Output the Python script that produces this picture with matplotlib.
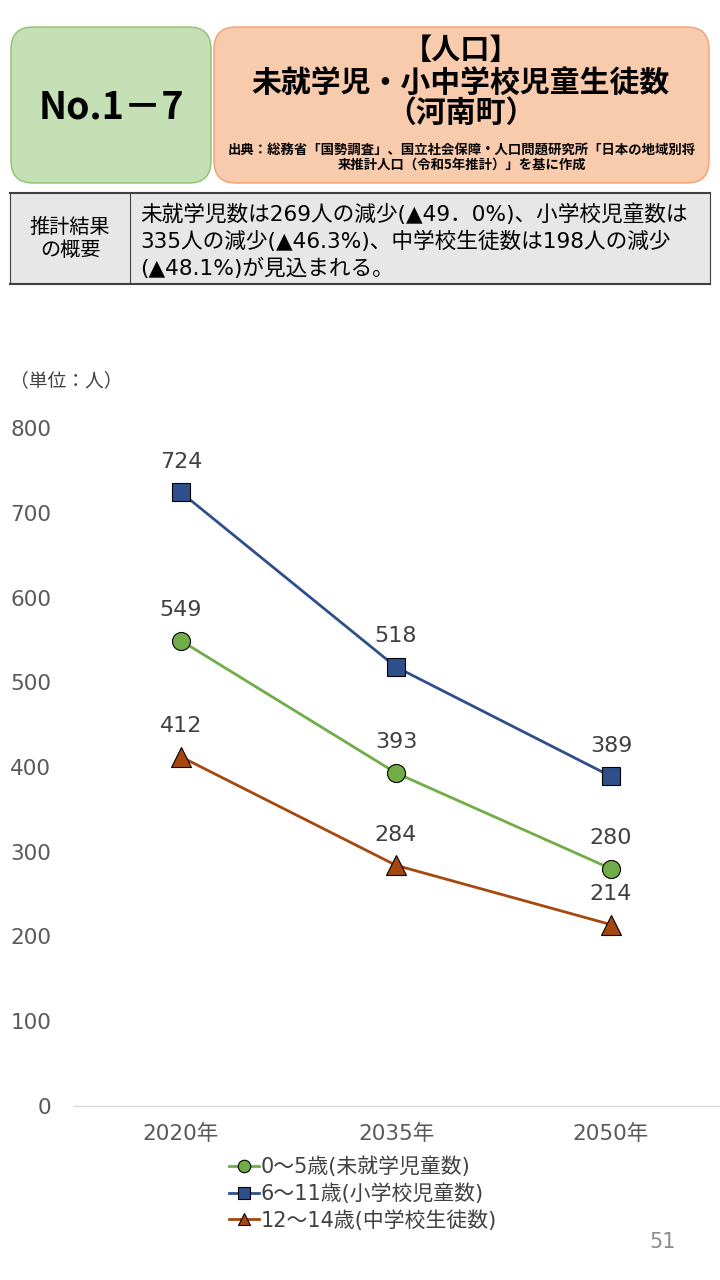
import matplotlib
matplotlib.use("Agg")
import matplotlib.pyplot as plt
from matplotlib.patches import FancyBboxPatch, Rectangle
from matplotlib.lines import Line2D

plt.rcParams['font.family'] = ['Noto Sans CJK JP', 'DejaVu Sans']
MIX = ['DejaVu Sans', 'Noto Sans CJK JP']  # wide digits, CJK falls back

# data
years = ["2020年", "2035年", "2050年"]
preschool = [549, 393, 280]
elementary = [724, 518, 389]
junior_high = [412, 284, 214]
series_names = ["0～5歳(未就学児童数)", "6～11歳(小学校児童数)", "12～14歳(中学校生徒数)"]
yticks = [0, 100, 200, 300, 400, 500, 600, 700, 800]

W, H = 720, 1280
fig = plt.figure(figsize=(7.2, 12.8), dpi=100)

# overlay axes in pixel coordinates for header boxes
ov = fig.add_axes([0, 0, 1, 1])
ov.set_xlim(0, W)
ov.set_ylim(H, 0)
ov.axis("off")

ov.add_patch(FancyBboxPatch((11, 27), 200, 156, boxstyle="round,pad=0,rounding_size=22",
                            fc="#C5E0B4", ec="#8DC26F", lw=1))
ov.add_patch(FancyBboxPatch((214, 27), 495, 156, boxstyle="round,pad=0,rounding_size=22",
                            fc="#F8CBAD", ec="#F0A070", lw=1))
ov.text(111, 107, "No.1－7", ha="center", va="center", fontsize=27, fontweight="bold")
ov.text(461, 50, "【人口】", ha="center", va="center", fontsize=21, fontweight="bold")
ov.text(461, 84, "未就学児・小中学校児童生徒数", ha="center", va="center", fontsize=21.5,
        fontweight="bold")
ov.text(461, 113, "（河南町）", ha="center", va="center", fontsize=21.5, fontweight="bold")
ov.text(462, 150, "出典：総務省「国勢調査」、国立社会保障・人口問題研究所「日本の地域別将",
        ha="center", va="center", fontsize=9.6, fontweight="bold")
ov.text(462, 165, "来推計人口（令和5年推計）」を基に作成", ha="center", va="center",
        fontsize=9.6, fontweight="bold")

# summary table
ov.add_patch(Rectangle((10, 193), 700, 91, fc="#E7E7E7", ec="none"))
ov.plot([10, 710], [193, 193], color="#404040", lw=1.5)
ov.plot([10, 710], [284, 284], color="#404040", lw=1.5)
for x in (10, 130, 710):
    ov.plot([x, x], [193, 284], color="#404040", lw=0.8)
ov.text(70, 239, "推計結果\nの概要", ha="center", va="center", fontsize=14.5, linespacing=1.15)
summary = ["未就学児数は269人の減少(▲49．0%)、小学校児童数は",
           "335人の減少(▲46.3%)、中学校生徒数は198人の減少",
           "(▲48.1%)が見込まれる。"]
for i, line in enumerate(summary):
    ov.text(140, 214 + 27 * i, line, ha="left", va="center", fontsize=15.6, family=MIX)

ov.text(10, 381, "（単位：人）", ha="left", va="center", fontsize=13.5, color="#404040")
ov.text(676, 1242, "51", ha="right", va="center", fontsize=15, color="#8C8C8C", family=MIX)

# chart
ax = fig.add_axes([73.5 / W, 1 - 1106 / H, 645 / W, 678 / H])
x = range(len(years))
styles = [
    (preschool, "#70AD47", "o"),
    (elementary, "#2F4F8A", "s"),
    (junior_high, "#A5480F", "^"),
]
handles = []
for (vals, col, mk), name in zip(styles, series_names):
    ms = 14 if mk == "^" else 13
    ln, = ax.plot(x, vals, color=col, lw=2, marker=mk, markersize=ms,
                  markerfacecolor=col, markeredgecolor="black", markeredgewidth=0.8,
                  label=name, zorder=3)
    handles.append(ln)
    for xi, v in zip(x, vals):
        ax.annotate(str(v), (xi, v), xytext=(0, 22), textcoords="offset points",
                    ha="center", va="center", fontsize=16, color="#404040", family=MIX)

ax.set_xlim(-0.5, 2.5)
ax.set_ylim(0, 800)
ax.set_yticks(yticks)
ax.set_xticks(list(x))
ax.set_xticklabels(years)
ax.tick_params(axis="both", length=0, labelsize=15.5, colors="#595959")
ax.tick_params(axis="y", pad=16)
ax.tick_params(axis="x", pad=13)
for lab in ax.get_xticklabels() + ax.get_yticklabels():
    lab.set_family(MIX)
for s in ("top", "right", "left"):
    ax.spines[s].set_visible(False)
ax.spines["bottom"].set_color("#D9D9D9")
ax.spines["bottom"].set_linewidth(1)
ax.patch.set_alpha(0)

leg_handles = [Line2D([0], [0], color=h.get_color(), lw=2, marker=h.get_marker(),
                      markersize=9, markerfacecolor=h.get_color(), markeredgecolor="black",
                      markeredgewidth=0.8) for h in handles]
leg = fig.legend(leg_handles, series_names, loc="upper left",
                 bbox_to_anchor=(219 / W, 1 - 1146 / H), frameon=False,
                 handlelength=1.4, handletextpad=0.1, labelspacing=0.3, labelcolor="#404040",
                 borderpad=0, prop={'family': MIX, 'size': 15})

fig.savefig("out.png", dpi=100)
